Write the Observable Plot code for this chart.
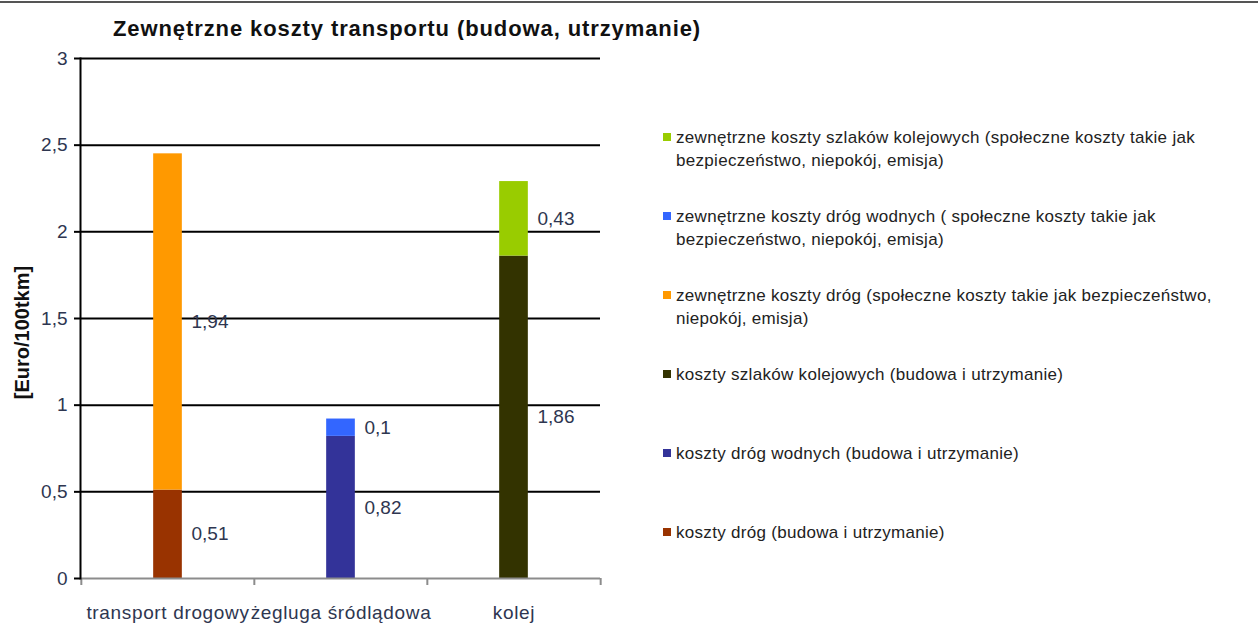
<!DOCTYPE html>
<html>
<head>
<meta charset="utf-8">
<script src="https://cdn.jsdelivr.net/npm/d3@7"></script>
<script src="https://cdn.jsdelivr.net/npm/@observablehq/plot@0.6"></script>
<style>
  html, body { margin: 0; padding: 0; background: #fff; }
  #wrap { position: relative; width: 1258px; height: 631px; overflow: hidden; font-family: "Liberation Sans", Arial, sans-serif; }
  #topline { position: absolute; left: 0; top: 1px; width: 1258px; height: 0; border-top: 2px solid #555; }
  #title { position: absolute; left: 113px; top: 16px; font-size: 22px; letter-spacing: 0.9px; font-weight: bold; color: #111; white-space: nowrap; }
  #chart { position: absolute; left: 0; top: 40px; }
  #legend { position: absolute; left: 663px; top: 126px; }
  .item { position: relative; height: 79px; font-size: 17px; letter-spacing: 0.3px; line-height: 23px; color: #222; white-space: pre-line; padding-left: 13px; }
  .sw { position: absolute; left: 0; top: 7px; width: 8px; height: 8px; }
</style>
</head>
<body>
<div id="wrap">
  <div id="topline"></div>
  <div id="title"></div>
  <div id="chart"></div>
  <div id="legend"></div>
</div>
<script>
const titleText = "Zewnętrzne koszty transportu (budowa, utrzymanie)";
const yLabel = "[Euro/100tkm]";
const categories = ["transport drogowy", "żegluga śródlądowa", "kolej"];
const baseSeries = [
  "koszty dróg (budowa i utrzymanie)",
  "koszty dróg wodnych (budowa i utrzymanie)",
  "koszty szlaków kolejowych (budowa i utrzymanie)"
];
const externalSeries = [
  "zewnętrzne koszty dróg (społeczne koszty takie jak bezpieczeństwo,\nniepokój, emisja)",
  "zewnętrzne koszty dróg wodnych ( społeczne koszty takie jak\nbezpieczeństwo, niepokój, emisja)",
  "zewnętrzne koszty szlaków kolejowych (społeczne koszty takie jak\nbezpieczeństwo, niepokój, emisja)"
];
const baseValues = [0.51, 0.82, 1.86];
const externalValues = [1.94, 0.1, 0.43];
const yTicks = [0, 0.5, 1, 1.5, 2, 2.5, 3];

const baseColors = ["#993300", "#333399", "#333300"];
const externalColors = ["#FF9900", "#3366FF", "#99CC00"];

const rows = [];
categories.forEach((c, i) => {
  rows.push({cat: c, series: baseSeries[i], value: baseValues[i]});
  rows.push({cat: c, series: externalSeries[i], value: externalValues[i]});
});
const colorDomain = [...baseSeries, ...externalSeries];
const colorRange = [...baseColors, ...externalColors];
const fmt = v => String(v).replace(".", ",");

document.getElementById("title").textContent = titleText;

const W = 620, H = 590, mL = 80, mR = 20, mT = 18, mB = 52;
const step = (W - mL - mR) / categories.length;
const barW = 29;
const inset = (step - barW) / 2;
const labelColor = "#2e3650";

const chart = Plot.plot({
  width: W, height: H,
  marginLeft: mL, marginRight: mR, marginTop: mT, marginBottom: mB,
  style: {fontFamily: "Liberation Sans, Arial, sans-serif", fontSize: "19px", color: labelColor, background: "white", overflow: "visible"},
  x: {domain: categories, padding: 0, label: null},
  y: {domain: [0, 3], label: null},
  color: {domain: colorDomain, range: colorRange},
  marks: [
    Plot.ruleY(yTicks.filter(v => v > 0), {stroke: "#000", strokeWidth: 2}),
    Plot.barY(rows, {x: "cat", y: "value", fill: "series", insetLeft: inset, insetRight: inset}),
    Plot.text(rows, Plot.stackY({x: "cat", y: "value", text: d => fmt(d.value), textAnchor: "start", dx: barW / 2 + 9, fill: labelColor, fontSize: 19})),
    Plot.ruleY([0], {stroke: "#8c8c8c", strokeWidth: 2}),
    Plot.ruleX(categories, {x: d => d, y1: 0, y2: 0, insetBottom: -7, dx: -step / 2, stroke: "#8c8c8c", strokeWidth: 2}),
    Plot.ruleX(categories.slice(-1), {x: d => d, y1: 0, y2: 0, insetBottom: -7, dx: step / 2, stroke: "#8c8c8c", strokeWidth: 2}),
    Plot.frame({anchor: "left", stroke: "#000", strokeWidth: 2}),
    Plot.axisY({ticks: yTicks, tickFormat: fmt, tickSize: 6, tickPadding: 7, stroke: "#000", strokeWidth: 2, label: null, fontSize: 19, color: labelColor}),
    Plot.axisX({tickSize: 0, tickPadding: 27, label: null, fontSize: 19}),
    Plot.text([yLabel], {frameAnchor: "left", text: d => d, rotate: -90, textAnchor: "middle", dx: -58, dy: 14, fontWeight: "bold", fontSize: 20, fill: "#111", ariaLabel: "y-label"})
  ]
});
document.getElementById("chart").appendChild(chart);
d3.select(chart).selectAll('g[aria-label="y-label"] text').style("letter-spacing", "1.8px");
d3.select(chart).selectAll('g[aria-label^="x-axis"] text').style("letter-spacing", "0.65px");

const legendOrder = [...externalSeries].reverse().concat([...baseSeries].reverse());
const colorOf = s => colorRange[colorDomain.indexOf(s)];
const legend = document.getElementById("legend");
legendOrder.forEach(s => {
  const it = document.createElement("div");
  it.className = "item";
  const sw = document.createElement("span");
  sw.className = "sw";
  sw.style.background = colorOf(s);
  it.appendChild(sw);
  it.appendChild(document.createTextNode(s));
  legend.appendChild(it);
});
</script>
</body>
</html>
